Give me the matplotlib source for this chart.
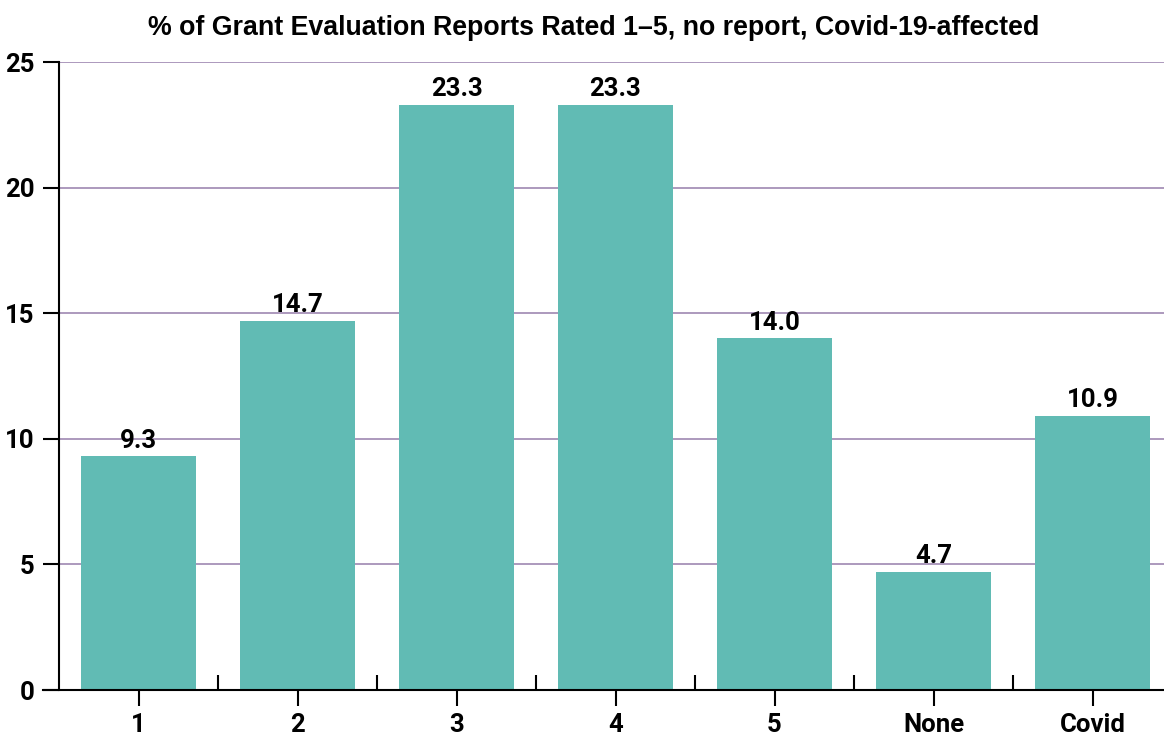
import matplotlib
matplotlib.use("Agg")
import matplotlib.pyplot as plt
import numpy as np
from matplotlib import font_manager

categorias = ["1", "2", "3", "4", "5", "None", "Covid"]
porcentajes = [9.3, 14.7, 23.3, 23.3, 14.0, 4.7, 10.9]
ticks_y = [0, 5, 10, 15, 20, 25]

COLOR_BARRA = "#61bbb4"
COLOR_GRID = "#9e88b2"
FUENTE_TIT = ["Liberation Sans", "DejaVu Sans"]

# números en negrita, lo más estrecha posible
fp_num = font_manager.FontProperties(family=["Roboto", "DejaVu Sans"], weight="bold", size=18.5)

fig = plt.figure(figsize=(11.64, 7.35), dpi=100)
# el eje se sale un poco por la derecha, a propósito
ax = fig.add_axes([59 / 1164, 45 / 735, 1113 / 1164, 628 / 735])

x = np.arange(len(categorias))
ax.bar(x, porcentajes, width=0.725, color=COLOR_BARRA, zorder=2)

for xi, v in zip(x, porcentajes):
    ax.text(xi, v + 0.15, f"{v:.1f}", ha="center", va="bottom", fontproperties=fp_num)

ax.set_xlim(-0.5, len(categorias) - 0.5)
ax.set_ylim(0, 25)
ax.set_yticks(ticks_y)
ax.set_yticklabels([str(t) for t in ticks_y], fontproperties=fp_num)
ax.set_xticks(x)
ax.set_xticklabels(categorias, fontproperties=fp_num)
ax.set_xticks(np.arange(len(categorias)) + 0.5, minor=True)

ax.yaxis.grid(True, color=COLOR_GRID, linewidth=1.2, zorder=1)
ax.set_axisbelow(True)
for s in ["top", "right"]:
    ax.spines[s].set_visible(False)
ax.spines["left"].set_linewidth(1.5)
ax.spines["bottom"].set_linewidth(1.5)
ax.spines["bottom"].set_bounds(-0.6, len(categorias) - 0.5)

ax.tick_params(axis="y", length=11.5, width=1.5, pad=6)
ax.tick_params(axis="x", which="major", length=11.5, width=1.5, pad=5)
ax.tick_params(axis="x", which="minor", direction="in", length=11, width=1.5)

fig.text(594 / 1164, 1 - 28 / 735, "% of Grant Evaluation Reports Rated 1–5, no report, Covid-19-affected",
         ha="center", va="center", fontsize=19.3, fontweight="bold", family=FUENTE_TIT)

fig.savefig("out.png", dpi=100)
